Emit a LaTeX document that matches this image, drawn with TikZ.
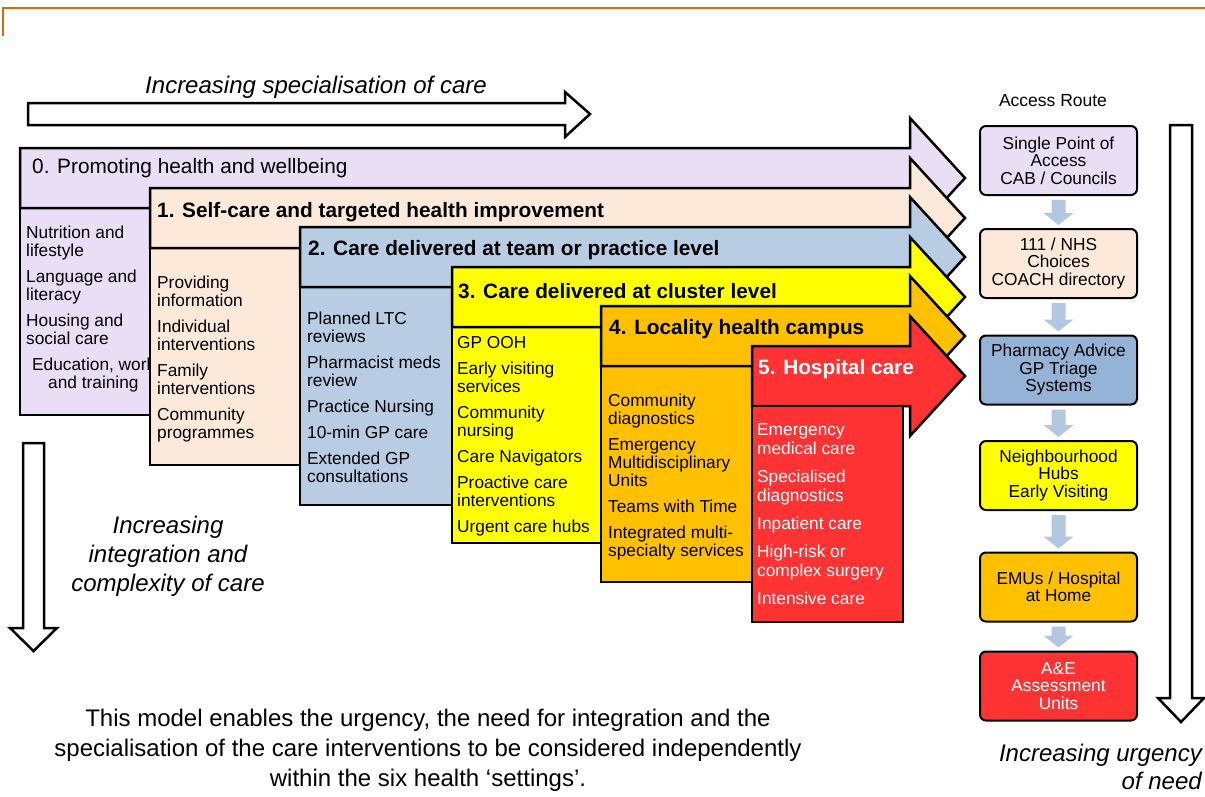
\documentclass[tikz,border=0pt]{standalone}
\usepackage{fontspec}
\setmainfont{Liberation Sans}
\usetikzlibrary{calc}

\definecolor{promote}{RGB}{233,222,245}
\definecolor{selfcare}{RGB}{253,233,217}
\definecolor{practice}{RGB}{184,204,228}
\definecolor{cluster}{RGB}{255,255,0}
\definecolor{locality}{RGB}{255,192,0}
\definecolor{hospital}{RGB}{255,51,51}
\definecolor{triage}{RGB}{149,179,215}
\definecolor{stepblue}{RGB}{180,199,224}
\definecolor{rule}{RGB}{210,105,20}

% small grey-blue arrow from one access box to the next
\newcommand{\routestep}[2]{%
  \fill[stepblue] ($(#1.south)+(-7,4)$) -- ($(#2.north)+(-7,-15)$) -- ($(#2.north)+(-15,-15)$)
    -- ($(#2.north)+(0,-3)$) -- ($(#2.north)+(15,-15)$) -- ($(#2.north)+(7,-15)$)
    -- ($(#1.south)+(7,4)$) -- cycle;}

\begin{document}
\begin{tikzpicture}[x=1pt,y=-1pt,
    stageline/.style={draw=black, line width=2.5pt},
    bigarrow/.style={draw=black, fill=white, line width=2.5pt},
    headtext/.style={anchor=west, inner sep=0pt, font=\fontsize{20.8}{24}\selectfont\bfseries},
    itemtext/.style={anchor=north west, inner sep=0pt, align=left, font=\fontsize{17.3}{18}\selectfont},
    accbox/.style={draw=black, line width=2pt, rounded corners=6pt, minimum width=157pt,
      minimum height=69pt, inner sep=0pt, align=center, font=\fontsize{17.3}{17.5}\selectfont},
    note/.style={align=center, inner sep=0pt, font=\fontsize{24}{29}\selectfont\itshape}]

    \useasboundingbox (0,0) rectangle (1205,796);

    % frame line at the top
    \draw[rule, line width=1.5pt] (3,36) -- (3,8) -- (1205,8);

    % specialisation arrow
    \draw[bigarrow] (28,103) -- (565,103) -- (565,92) -- (590,114) -- (565,137) -- (565,125) -- (28,125) -- cycle;
    \node[note] (spec) at (316,87) {Increasing specialisation of care};

    % stage 0
    \draw[stageline, fill=promote] (20,208) rectangle (160,415);
    \draw[stageline, fill=promote] (20,148) -- (910,148) -- (910,118) -- (965,178) -- (910,238) -- (910,208) -- (20,208) -- cycle;
    \node[headtext, font=\fontsize{20.8}{24}\selectfont] (h0) at (32,168) {0. Promoting health and wellbeing};
    \node[itemtext] (t0) at (26,225.5) {Nutrition and\\lifestyle\\[8pt]Language and\\literacy\\[8pt]Housing and\\social care\\[8pt]\hspace*{6pt}Education, work\\\hspace*{22pt}and training};

    % stage 1
    \draw[stageline, fill=selfcare] (150,248) rectangle (310,465);
    \draw[stageline, fill=selfcare] (150,188) -- (910,188) -- (910,158) -- (965,218) -- (910,278) -- (910,248) -- (150,248) -- cycle;
    \node[headtext] (h1) at (157,212) {1. Self-care and targeted health improvement};
    \node[itemtext] (t1) at (157,275.5) {Providing\\information\\[8pt]Individual\\interventions\\[8pt]Family\\interventions\\[8pt]Community\\programmes};

    % stage 2
    \draw[stageline, fill=practice] (300,287) rectangle (462,505);
    \draw[stageline, fill=practice] (300,227) -- (910,227) -- (910,197) -- (965,257) -- (910,317) -- (910,287) -- (300,287) -- cycle;
    \node[headtext] (h2) at (308,250) {2. Care delivered at team or practice level};
    \node[itemtext] (t2) at (307,311.5) {Planned LTC\\reviews\\[8pt]Pharmacist meds\\review\\[8pt]Practice Nursing\\[8pt]10-min GP care\\[8pt]Extended GP\\consultations};

    % stage 3
    \draw[stageline, fill=cluster] (452,327) rectangle (611,543);
    \draw[stageline, fill=cluster] (452,267) -- (910,267) -- (910,237) -- (965,297) -- (910,357) -- (910,327) -- (452,327) -- cycle;
    \node[headtext] (h3) at (458,291) {3. Care delivered at cluster level};
    \node[itemtext] (t3) at (457,336.5) {GP OOH\\[8pt]Early visiting\\services\\[8pt]Community\\nursing\\[8pt]Care Navigators\\[8pt]Proactive care\\interventions\\[8pt]Urgent care hubs};

    % stage 4
    \draw[stageline, fill=locality] (601,366) rectangle (762,582);
    \draw[stageline, fill=locality] (601,306) -- (910,306) -- (910,276) -- (965,336) -- (910,396) -- (910,366) -- (601,366) -- cycle;
    \node[headtext] (h4) at (609,329) {4. Locality health campus};
    \node[itemtext] (t4) at (608,393.5) {Community\\diagnostics\\[8pt]Emergency\\Multidisciplinary\\Units\\[8pt]Teams with Time\\[8pt]Integrated multi-\\specialty services};

    % stage 5
    \draw[stageline, fill=hospital] (752,346) -- (910,346) -- (910,316) -- (965,376) -- (910,436) -- (910,406) -- (752,406) -- cycle;
    \draw[stageline, fill=hospital] (752,406) rectangle (903,622);
    \node[headtext, text=white] (h5) at (758,369) {5. Hospital care};
    \node[itemtext, text=white, font=\fontsize{17.3}{19}\selectfont] (t5) at (757,423.5) {Emergency\\medical care\\[9pt]Specialised\\diagnostics\\[9pt]Inpatient care\\[9pt]High-risk or\\complex surgery\\[9pt]Intensive care};

    % access route column
    \node[font=\fontsize{17.5}{20}\selectfont] (route) at (1053,101) {Access Route};
    \node[accbox, fill=promote] (acc1) at (1058.5,160.5) {Single Point of\\Access\\CAB / Councils};
    \node[accbox, fill=selfcare] (acc2) at (1058.5,263.5) {111 / NHS\\Choices\\COACH directory};
    \node[accbox, fill=triage] (acc3) at (1058.5,370) {Pharmacy Advice\\GP Triage\\Systems};
    \node[accbox, fill=cluster] (acc4) at (1058.5,475.5) {Neighbourhood\\Hubs\\Early Visiting};
    \node[accbox, fill=locality] (acc5) at (1058.5,587) {EMUs / Hospital\\at Home};
    \node[accbox, fill=hospital, text=white] (acc6) at (1058.5,686) {A\&E\\Assessment\\Units};

    \routestep{acc1}{acc2}
    \routestep{acc2}{acc3}
    \routestep{acc3}{acc4}
    \routestep{acc4}{acc5}
    \routestep{acc5}{acc6}

    % urgency arrow
    \draw[bigarrow] (1170,125) -- (1192,125) -- (1192,698) -- (1204,698) -- (1181,722) -- (1158,698) -- (1170,698) -- cycle;
    \node[note, align=right, anchor=north east, font=\fontsize{24}{28}\selectfont\itshape] (urg) at (1202,744) {Increasing urgency\\of need};

    % integration arrow
    \draw[bigarrow] (23,443) -- (44,443) -- (44,628) -- (57,628) -- (33.5,651) -- (10,628) -- (23,628) -- cycle;
    \node[note] (integ) at (168,556) {Increasing\\integration and\\complexity of care};

    \node[align=center, inner sep=0pt, font=\fontsize{24}{30}\selectfont] (model) at (428,750) {This model enables the urgency, the need for integration and the\\specialisation of the care interventions to be considered independently\\within the six health ‘settings’.};
\end{tikzpicture}
\end{document}
